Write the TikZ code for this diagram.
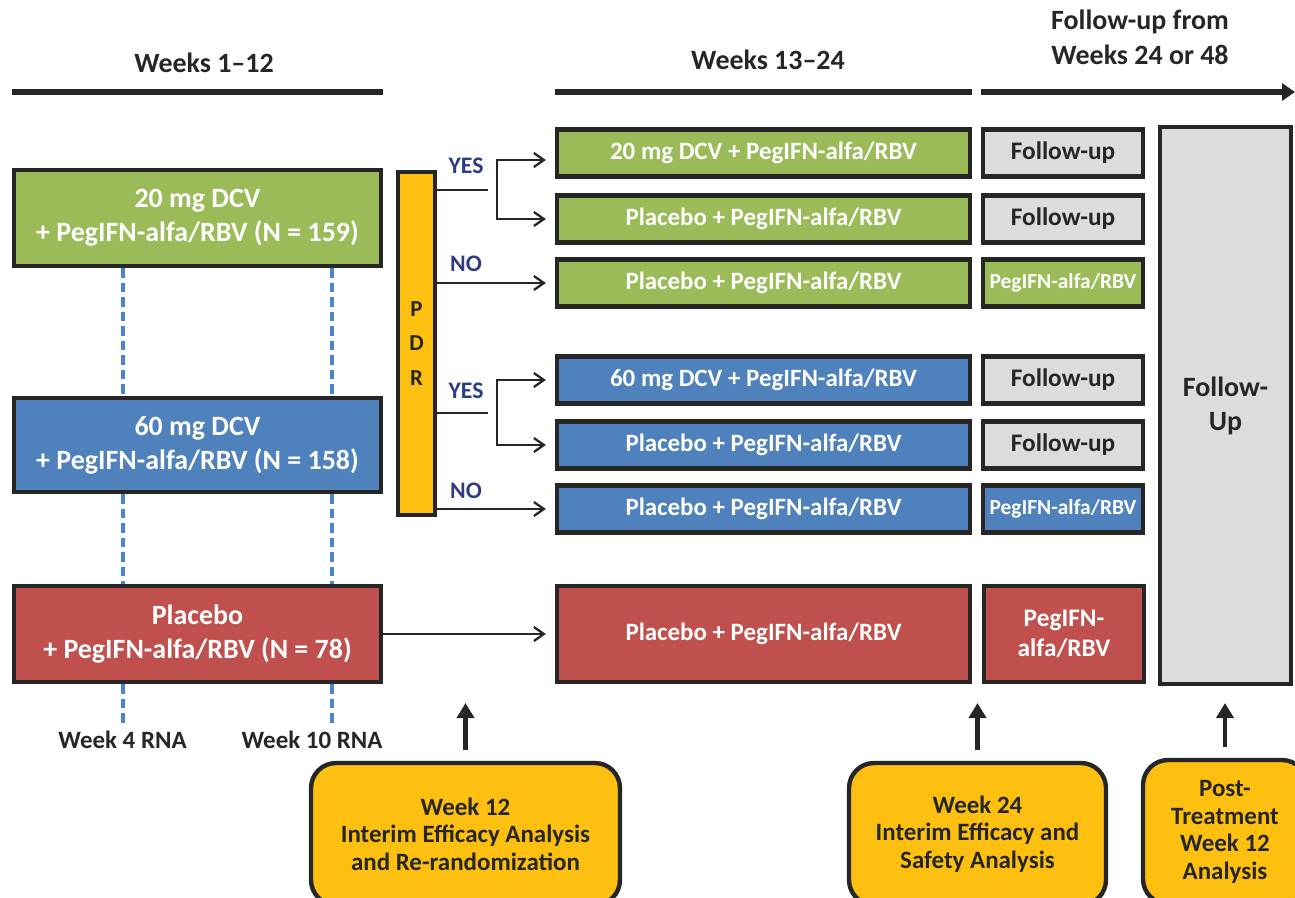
\documentclass[tikz,border=0pt]{standalone}
\usepackage{fontspec}
\setmainfont{Carlito}
\usetikzlibrary{arrows.meta}
\definecolor{armgreen}{HTML}{9BBB59}
\definecolor{armblue}{HTML}{4F81BD}
\definecolor{armred}{HTML}{C0504D}
\definecolor{fugray}{HTML}{DCDCDE}
\definecolor{anyellow}{HTML}{FDBF10}
\definecolor{ansnavy}{HTML}{2F3C82}
\definecolor{ink}{HTML}{262626}
\definecolor{rnablue}{HTML}{4A86CC}
\begin{document}
\begin{tikzpicture}[x=0.02cm, y=-0.02cm, every node/.style={font=\bfseries},
  arm/.style={draw=ink,line width=2.5pt,text=white,align=center,inner sep=0pt,font=\fontsize{15.9}{19.3}\selectfont\bfseries},
  row/.style={arm,minimum width=8.26cm,minimum height=0.94cm,font=\fontsize{14.2}{17}\selectfont\bfseries},
  fu/.style={arm,minimum width=3.2cm,minimum height=0.94cm,font=\fontsize{14.4}{17}\selectfont\bfseries},
  ana/.style={draw=ink,line width=2.5pt,fill=anyellow,rounded corners=0.5cm,align=center,text=ink,font=\fontsize{14.2}{15.7}\selectfont\bfseries},
  hdr/.style={text=ink,align=center,font=\fontsize{15.9}{19.8}\selectfont\bfseries},
  hline/.style={draw=ink,line width=3.6pt},
  link/.style={draw=ink,line width=1.3pt,-{Straight Barb[length=2mm,width=2.8mm]},shorten >=0.18cm},
  yesno/.style={text=ansnavy,font=\fontsize{13.5}{16}\selectfont\bfseries},
  rna/.style={draw=rnablue,line width=2.3pt,dash pattern=on 0.19cm off 0.1cm},
  uparr/.style={draw=ink,line width=2.8pt,-{Triangle[length=3mm,width=3.4mm]},shorten <=0.22cm}]
\useasboundingbox (0,0) rectangle (1295,897);
\node[hdr] (wk1) at (204,63) {Weeks 1--12};
\node[hdr] (wk13) at (768,60) {Weeks 13--24};
\node[hdr] (wkfu) at (1140,37) {Follow-up from\\Weeks 24 or 48};
\draw[hline] (12,92) -- (383,92);
\draw[hline] (555,92) -- (972,92);
\draw[hline,-{Triangle[length=2.6mm,width=3.4mm]}] (981,92) -- (1295,92);
\node[arm,fill=armgreen,minimum width=7.34cm,minimum height=1.92cm] (dcv20) at (197.5,218) {20 mg DCV\\+ PegIFN-alfa/RBV (N = 159)};
\node[arm,fill=armblue,minimum width=7.34cm,minimum height=1.88cm] (dcv60) at (197.5,445) {60 mg DCV\\+ PegIFN-alfa/RBV (N = 158)};
\node[arm,fill=armred,minimum width=7.34cm,minimum height=1.92cm] (pbo) at (197.5,634) {Placebo\\+ PegIFN-alfa/RBV (N = 78)};
\node[arm,fill=anyellow,text=ink,minimum width=0.74cm,minimum height=6.86cm,font=\fontsize{13}{19.8}\selectfont\bfseries] (pdr) at (416.5,343.5) {P\\D\\R};
\node[row,fill=armgreen] (g1) at (763.5,153) {20 mg DCV + PegIFN-alfa/RBV};
\node[row,fill=armgreen] (g2) at (763.5,219) {Placebo + PegIFN-alfa/RBV};
\node[row,fill=armgreen] (g3) at (763.5,283) {Placebo + PegIFN-alfa/RBV};
\node[row,fill=armblue] (b1) at (763.5,380) {60 mg DCV + PegIFN-alfa/RBV};
\node[row,fill=armblue] (b2) at (763.5,445) {Placebo + PegIFN-alfa/RBV};
\node[row,fill=armblue] (b3) at (763.5,509) {Placebo + PegIFN-alfa/RBV};
\node[row,fill=armred,minimum height=1.92cm] (pr) at (763.5,634) {Placebo + PegIFN-alfa/RBV};
\node[fu,fill=fugray,text=ink] (g1f) at (1063,153) {Follow-up};
\node[fu,fill=fugray,text=ink] (g2f) at (1063,219) {Follow-up};
\node[fu,fill=armgreen,font=\fontsize{12.2}{15}\selectfont\bfseries] (g3f) at (1063,283) {PegIFN-alfa/RBV};
\node[fu,fill=fugray,text=ink] (b1f) at (1063,380) {Follow-up};
\node[fu,fill=fugray,text=ink] (b2f) at (1063,445) {Follow-up};
\node[fu,fill=armblue,font=\fontsize{12.2}{15}\selectfont\bfseries] (b3f) at (1063,509) {PegIFN-alfa/RBV};
\node[fu,fill=armred,minimum height=1.92cm] (prf) at (1064,634) {PegIFN-\\alfa/RBV};
\node[arm,fill=fugray,text=ink,minimum width=2.62cm,minimum height=11.14cm] (fuall) at (1225.5,405.5) {Follow-\\Up};
\node[yesno] (yes1lbl) at (466,166) {YES};
\node[yesno] (no1lbl) at (466,264) {NO};
\node[yesno] (yes2lbl) at (466,391) {YES};
\node[yesno] (no2lbl) at (466,491) {NO};
\coordinate (yes1) at (497,190);
\coordinate (yes2) at (497,413);
\draw[link,-] (pdr.east |- yes1) -- (yes1);
\draw[link] (yes1) |- ([yshift=-0.14cm]g1.west);
\draw[link] (yes1) |- (g2.west);
\draw[link] (pdr.east |- g3.west) -- (g3.west);
\draw[link,-] (pdr.east |- yes2) -- (yes2);
\draw[link] (yes2) |- (b1.west);
\draw[link] (yes2) |- (b2.west);
\draw[link] (pdr.east |- b3.west) -- (b3.west);
\draw[link] (pbo.east) -- (pr.west);
\coordinate (rna4) at (123,723);
\coordinate (rna10) at (332,723);
\draw[rna] (dcv20.south -| rna4) -- (dcv60.north -| rna4);
\draw[rna] (dcv60.south -| rna4) -- (pbo.north -| rna4);
\draw[rna] (pbo.south -| rna4) -- (rna4);
\draw[rna] (dcv20.south -| rna10) -- (dcv60.north -| rna10);
\draw[rna] (dcv60.south -| rna10) -- (pbo.north -| rna10);
\draw[rna] (pbo.south -| rna10) -- (rna10);
\node[text=ink,font=\fontsize{14.2}{17}\selectfont\bfseries] (rna4lbl) at (122.5,740) {Week 4 RNA};
\node[text=ink,font=\fontsize{14.2}{17}\selectfont\bfseries] (rna10lbl) at (312,740) {Week 10 RNA};
\node[ana,minimum width=6.18cm,minimum height=2.84cm] (wk12) at (465.5,834) {Week 12\\Interim Efficacy Analysis\\and Re-randomization};
\node[ana,minimum width=5.14cm,minimum height=2.84cm] (wk24) at (977.5,834) {Week 24\\Interim Efficacy and\\Safety Analysis};
\node[ana,minimum width=3.28cm,minimum height=2.88cm] (ptw12) at (1225,832) {Post-\\Treatment\\Week 12\\Analysis};
\coordinate (tipy) at (0,703);
\draw[uparr] (wk12.north) -- (wk12.north |- tipy);
\draw[uparr] (wk24.north) -- (wk24.north |- tipy);
\draw[uparr] (ptw12.north) -- (ptw12.north |- tipy);
\end{tikzpicture}
\end{document}
